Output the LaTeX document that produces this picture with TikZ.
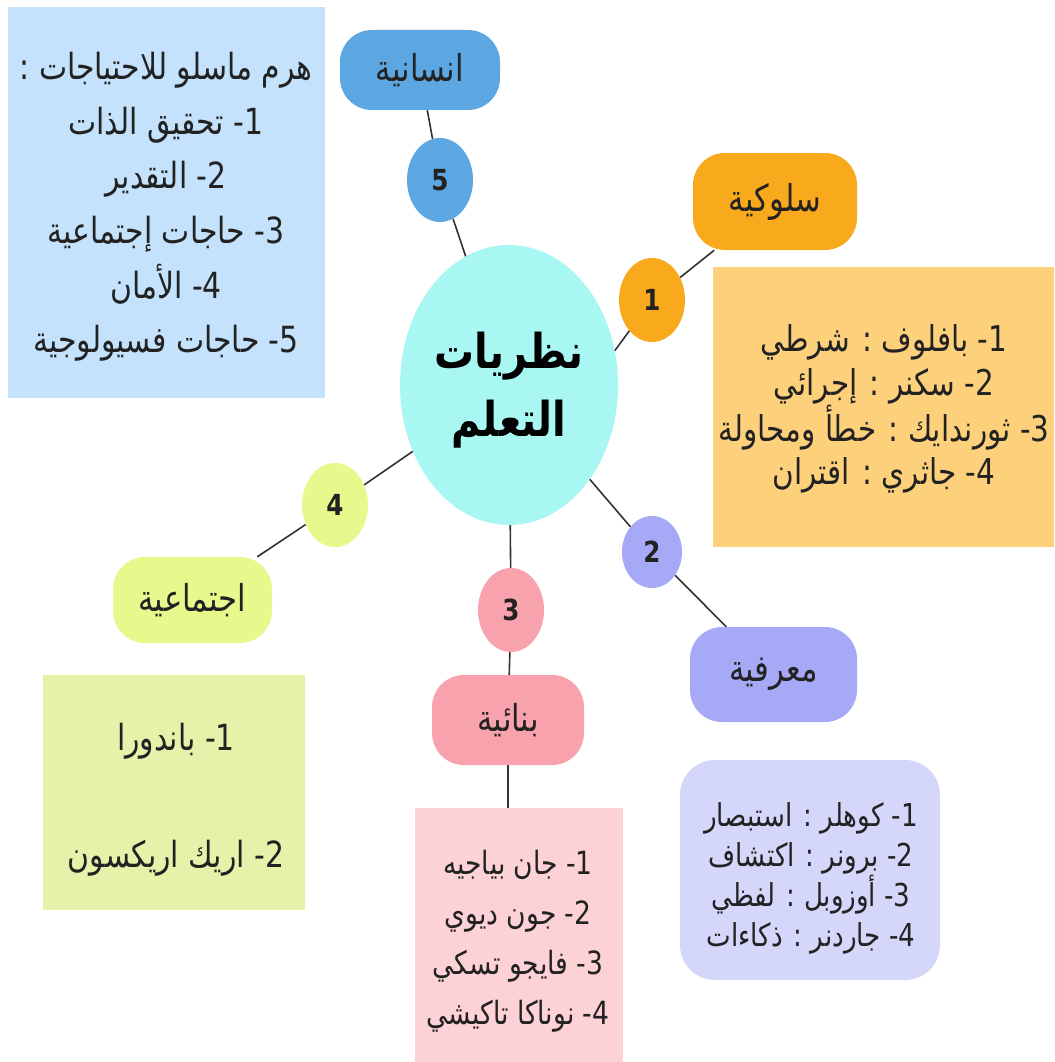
\documentclass[tikz,border=0pt]{standalone}
\usepackage{fontspec}
\setmainfont{DejaVu Sans}
\newfontfamily\ar[Script=Arabic,FakeStretch=0.83]{DejaVu Sans}
\newfontfamily\numf[FakeStretch=0.85]{DejaVu Sans}
\TeXXeTstate=1
\usetikzlibrary{shapes.geometric}
\newcommand\arl[1]{\beginR #1\endR}
\newcommand\nm[1]{#1\kern0pt-}
\definecolor{txt}{HTML}{222222}
\definecolor{bluebg}{HTML}{C4E2FB}
\definecolor{bluek}{HTML}{5CA7E1}
\definecolor{cyanc}{HTML}{A8F7F3}
\definecolor{orak}{HTML}{F8AA1C}
\definecolor{orabg}{HTML}{FDD17C}
\definecolor{purk}{HTML}{A6AAF6}
\definecolor{purbg}{HTML}{D4D6FA}
\definecolor{pinkk}{HTML}{F7A2AC}
\definecolor{pinkbg}{HTML}{FDD2D7}
\definecolor{grnk}{HTML}{E6F98C}
\definecolor{grnbg}{HTML}{E4F2AA}
\tikzset{
  listbox/.style={inner sep=0pt},
  listtext/.style={inner sep=0pt, align=center, text=txt},
  labelbox/.style={rounded corners=32pt, inner sep=0pt, text=txt, font=\ar\fontsize{37}{42}\selectfont},
  numnode/.style={ellipse, inner sep=0pt, minimum width=66pt, minimum height=84pt, text=txt, font=\numf\bfseries\fontsize{29}{32}\selectfont},
  conn/.style={draw=black!80, line width=1.6pt}
}
\begin{document}
\begin{tikzpicture}[x=1pt,y=-1pt]
\useasboundingbox[fill=white] (0,0) rectangle (1054,1062);
% center
\node[ellipse, fill=cyanc, minimum width=218pt, minimum height=280pt, inner sep=0pt] (c) at (509,385) {};
\node[listtext, text=black, font=\ar\bfseries\fontsize{48}{68}\selectfont] (ct) at (509,390) {\arl{نظريات}\\\arl{التعلم}};
% number nodes
\node[numnode, fill=bluek] (n5) at (440,180) {5};
\node[numnode, fill=orak] (n1) at (652,300) {1};
\node[numnode, fill=purk, minimum width=60pt, minimum height=72pt] (n2) at (652,552) {2};
\node[numnode, fill=pinkk] (n3) at (511,610) {3};
\node[numnode, fill=grnk] (n4) at (335,505) {4};
% label boxes
\node[labelbox, fill=bluek, minimum width=160pt, minimum height=80pt] (ins) at (420,70) {\arl{انسانية}};
\node[labelbox, fill=orak, minimum width=164pt, minimum height=97pt] (sul) at (775,201.5) {\arl{سلوكية}};
\node[labelbox, fill=purk, minimum width=167pt, minimum height=95pt] (mar) at (773.5,674.5) {\arl{معرفية}};
\node[labelbox, fill=pinkk, minimum width=152pt, minimum height=90pt] (bun) at (508,720) {\arl{بنائية}};
\node[labelbox, fill=grnk, minimum width=159pt, minimum height=86pt] (ijt) at (192.5,600) {\arl{اجتماعية}};
% list boxes
\node[listbox, fill=bluebg, minimum width=317pt, minimum height=391pt] (blist) at (166.5,202.5) {};
\node[listtext, font=\ar\fontsize{36}{54.6}\selectfont] (blistt) at (166,207)
 {\arl{هرم ماسلو للاحتياجات :}\\\arl{\nm{1} تحقيق الذات}\\\arl{\nm{2} التقدير}\\\arl{\nm{3} حاجات إجتماعية}\\\arl{\nm{4} الأمان}\\\arl{\nm{5} حاجات فسيولوجية}};
\node[listbox, fill=orabg, minimum width=341pt, minimum height=280pt] (olist) at (883.5,407) {};
\node[listtext, font=\ar\fontsize{35.5}{43.5}\selectfont] (olistt) at (884,409)
 {\arl{\nm{1} بافلوف : شرطي}\\\arl{\nm{2} سكنر : إجرائي}\\\arl{\nm{3} ثورندايك : خطأ ومحاولة}\\\arl{\nm{4} جاثري : اقتران}};
\node[listbox, fill=purbg, rounded corners=35pt, minimum width=260pt, minimum height=220pt] (plist) at (810,870) {};
\node[listtext, font=\ar\fontsize{31.5}{40}\selectfont] (plistt) at (811,878)
 {\arl{\nm{1} كوهلر : استبصار}\\\arl{\nm{2} برونر : اكتشاف}\\\arl{\nm{3} أوزوبل : لفظي}\\\arl{\nm{4} جاردنر : ذكاءات}};
\node[listbox, fill=pinkbg, minimum width=208pt, minimum height=254pt] (klist) at (519,935) {};
\node[listtext, font=\ar\fontsize{32}{50}\selectfont] (klistt) at (518,941)
 {\arl{\nm{1} جان بياجيه}\\\arl{\nm{2} جون ديوي}\\\arl{\nm{3} فايجو تسكي}\\\arl{\nm{4} نوناكا تاكيشي}};
\node[listbox, fill=grnbg, minimum width=262pt, minimum height=235pt] (glist) at (174,792.5) {};
\node[listtext, font=\ar\fontsize{36}{117}\selectfont] (glistt) at (176,800)
 {\arl{\nm{1} باندورا}\\\arl{\nm{2} اريك اريكسون}};
% connectors
\draw[conn] (ins) -- (n5);
\draw[conn] (n5) -- (c);
\draw[conn] (c.18) -- (n1);
\draw[conn] (n1) -- (sul);
\draw[conn] (c) -- (n2);
\draw[conn] (n2) -- (mar);
\draw[conn] (c) -- (n3);
\draw[conn] (n3) -- (bun);
\draw[conn] (bun.south) -- (bun.south |- klist.north);
\draw[conn] (c) -- (n4);
\draw[conn] (n4) -- (ijt);
\end{tikzpicture}
\end{document}
